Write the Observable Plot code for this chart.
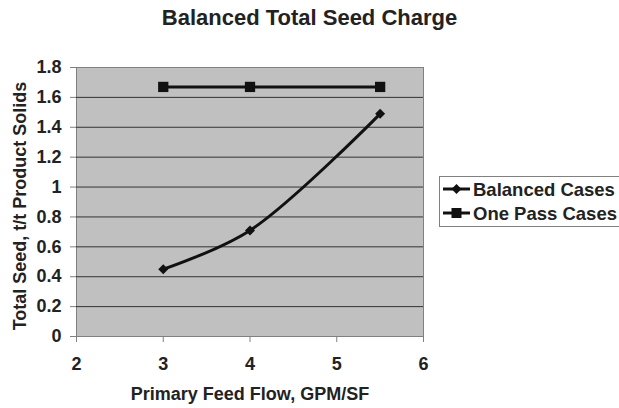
<!DOCTYPE html>
<html><head><meta charset="utf-8">
<script src="https://cdn.jsdelivr.net/npm/d3@7"></script>
<script src="https://cdn.jsdelivr.net/npm/@observablehq/plot@0.6"></script>
<style>
body{margin:0;background:#fff;font-family:"Liberation Sans",Arial,sans-serif;}
#wrap{position:relative;width:619px;height:408px;overflow:hidden;}
#title{position:absolute;left:0;top:7px;width:619px;text-align:center;font-weight:bold;font-size:22px;line-height:22px;color:#222;}
#legend{position:absolute;left:439px;top:176px;width:200px;height:49px;border:1px solid #808080;background:#fff;font-weight:bold;font-size:18.5px;line-height:18px;color:#222;}
.li{position:absolute;left:33px;white-space:nowrap;}
#chart{position:absolute;left:0;top:0;}
</style></head><body>
<div id="wrap">
<div id="chart"></div>
<div id="title">Balanced Total Seed Charge</div>
<div id="legend">
<svg id="lsym" width="40" height="49" style="position:absolute;left:0;top:0"></svg>
<div class="li" id="l0" style="top:4px"></div>
<div class="li" id="l1" style="top:28px"></div>
</div>
</div>
<script>
const flow = [3, 4, 5.5];
const balanced = [0.45, 0.71, 1.49];
const onePass = [1.67, 1.67, 1.67];
const yTicks = [0, 0.2, 0.4, 0.6, 0.8, 1, 1.2, 1.4, 1.6, 1.8];
const xTicks = [2, 3, 4, 5, 6];
const seriesNames = ["Balanced Cases", "One Pass Cases"];

const balData = flow.map((x, i) => ({x, y: balanced[i]}));
const oneData = flow.map((x, i) => ({x, y: onePass[i]}));
const grid = yTicks.slice(1, -1);
const fmt = d => String(+d.toFixed(1));

document.getElementById("l0").textContent = seriesNames[0];
document.getElementById("l1").textContent = seriesNames[1];

const chart = Plot.plot({
  width: 619, height: 408,
  marginLeft: 76, marginRight: 196, marginTop: 67, marginBottom: 72,
  style: {fontFamily: '"Liberation Sans", Arial, sans-serif', fontWeight: "bold", fontSize: "18px", color: "#222", background: "transparent"},
  x: {domain: [2, 6], label: null},
  y: {domain: [0, 1.8], label: null},
  marks: [
    Plot.frame({fill: "#c0c0c0", stroke: "#808080"}),
    Plot.ruleY(grid, {stroke: "#333", strokeWidth: 1}),
    Plot.axisX({ticks: xTicks, tickSize: 6, tickPadding: 15, stroke: "#808080", fill: "#222", label: null, tickFormat: fmt}),
    Plot.axisY({ticks: yTicks, tickSize: 6, tickPadding: 9, stroke: "#808080", fill: "#222", label: null, tickFormat: fmt}),
    Plot.line(oneData, {x: "x", y: "y", stroke: "#111", strokeWidth: 3}),
    Plot.dot(oneData, {x: "x", y: "y", symbol: "square", r: 5.8, fill: "#111"}),
    Plot.line(balData, {x: "x", y: "y", stroke: "#111", strokeWidth: 3, curve: "catmull-rom"}),
    Plot.dot(balData, {x: "x", y: "y", symbol: "diamond2", r: 4.5, fill: "#111"}),
    Plot.text(["Primary Feed Flow, GPM/SF"], {frameAnchor: "bottom", dy: 63, fill: "#222"}),
    Plot.text(["Total Seed, t/t Product Solids"], {frameAnchor: "left", textAnchor: "middle", dx: -56, dy: 4, rotate: -90, fill: "#222"})
  ]
});
document.getElementById("chart").appendChild(chart);

// legend symbols
const ls = d3.select("#lsym");
ls.append("line").attr("x1", 3).attr("x2", 30).attr("y1", 12).attr("y2", 12).attr("stroke", "#111").attr("stroke-width", 3);
ls.append("path").attr("d", d3.symbol(d3.symbolDiamond2, 64)()).attr("transform", "translate(16.5,12)").attr("fill", "#111");
ls.append("line").attr("x1", 3).attr("x2", 30).attr("y1", 36).attr("y2", 36).attr("stroke", "#111").attr("stroke-width", 3);
ls.append("path").attr("d", d3.symbol(d3.symbolSquare, 100)()).attr("transform", "translate(16.5,36)").attr("fill", "#111");
</script>
</body></html>
